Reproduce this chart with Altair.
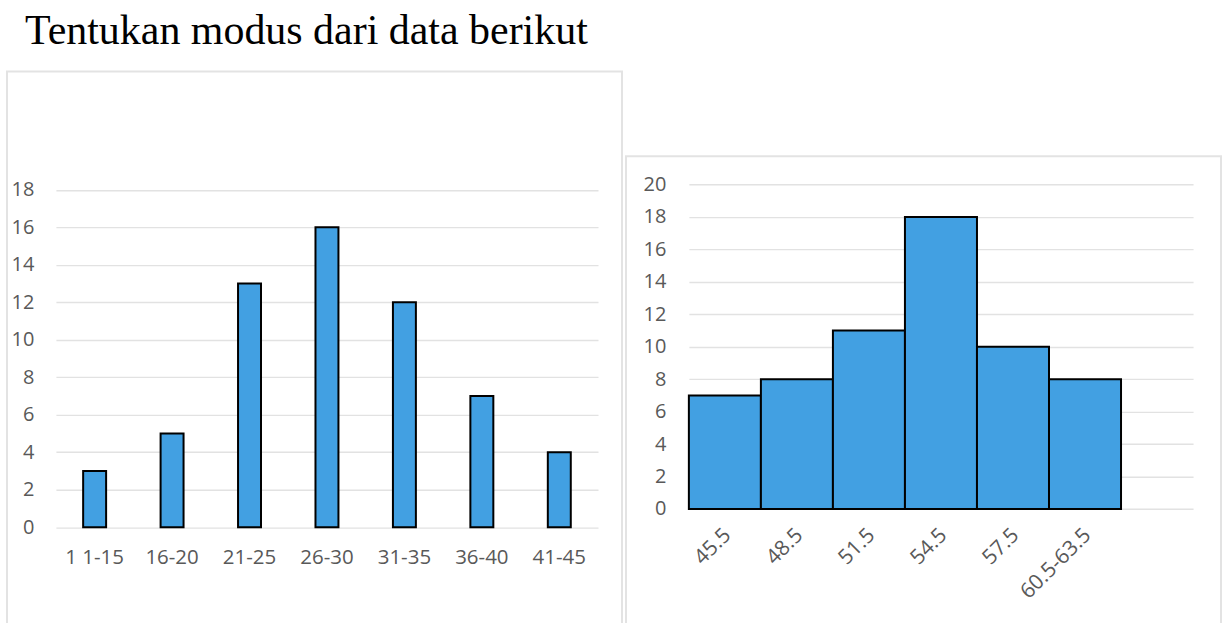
import altair as alt
import pandas as pd

# ---- data ----
left_categories = ["1 1-15", "16-20", "21-25", "26-30", "31-35", "36-40", "41-45"]
left_values = [3, 5, 13, 16, 12, 7, 4]

right_categories = ["45.5", "48.5", "51.5", "54.5", "57.5", "60.5-63.5"]
right_values = [7, 8, 11, 18, 10, 8]
right_extra_band = [" "]  # empty slot at the right end of the category axis

left_ticks = [0, 2, 4, 6, 8, 10, 12, 14, 16, 18]
right_ticks = [0, 2, 4, 6, 8, 10, 12, 14, 16, 18, 20]

title_text = "Tentukan modus dari data berikut"

# ---- styles ----
BAR_FILL = "#42a0e2"
GRID = "#e2e2e2"
LABEL = "#595959"
BOX = "#e3e3e3"
FONT = "Open Sans"

left_df = pd.DataFrame({"kelas": left_categories, "frekuensi": left_values})
right_df = pd.DataFrame({"kelas": right_categories, "frekuensi": right_values})

EXTRA = 5  # let the panel frames run past the bottom edge, as in the reference
LW, LH = 616, 551 + EXTRA
RW, RH = 596, 466 + EXTRA

left = (
    alt.Chart(left_df, view=alt.ViewBackground(stroke=BOX, strokeWidth=2))
    .mark_bar(width=23, fill=BAR_FILL, stroke="black", strokeWidth=2)
    .encode(
        x=alt.X(
            "kelas:N",
            sort=left_categories,
            scale=alt.Scale(domain=left_categories, range=[49, 592],
                            paddingInner=0, paddingOuter=0),
            axis=alt.Axis(title=None, labelAngle=0, domain=False, ticks=False,
                          tickSize=0, labelPadding=20, offset=-94.5 - EXTRA,
                          labelFont=FONT, labelFontSize=20.5, labelColor=LABEL,
                          grid=False),
        ),
        y=alt.Y(
            "frekuensi:Q",
            scale=alt.Scale(domain=[0, 18], range=[456.5, 118.5], nice=False),
            axis=alt.Axis(title=None, values=left_ticks, domain=False, ticks=False,
                          tickSize=0, labelPadding=22, offset=-49,
                          labelFont=FONT, labelFontSize=20, labelColor=LABEL,
                          grid=True, gridColor=GRID, gridWidth=1.4),
        ),
    )
    .properties(width=LW, height=LH)
)

spacer = (
    alt.Chart(pd.DataFrame({"a": [0]}), view=alt.ViewBackground(stroke="transparent"))
    .mark_point(opacity=0)
    .encode(x=alt.value(200), y=alt.value(40))
    .properties(width=RW, height=83)
)

right_domain = right_categories + right_extra_band
right = (
    alt.Chart(right_df, view=alt.ViewBackground(stroke=BOX, strokeWidth=2))
    .mark_bar(fill=BAR_FILL, stroke="black", strokeWidth=2)
    .encode(
        x=alt.X(
            "kelas:N",
            sort=right_categories,
            scale=alt.Scale(domain=right_domain, range=[63, 568],
                            paddingInner=0, paddingOuter=0),
            axis=alt.Axis(title=None, labelAngle=-45, labelAlign="right",
                          labelBaseline="top", domain=False, ticks=False,
                          tickSize=0, labelPadding=15, labelOffset=-5,
                          offset=-112.7 - EXTRA,
                          labelFont=FONT, labelFontSize=21, labelColor=LABEL,
                          grid=False),
        ),
        y=alt.Y(
            "frekuensi:Q",
            scale=alt.Scale(domain=[0, 20], range=[353.3, 28.3], nice=False),
            axis=alt.Axis(title=None, values=right_ticks, domain=False, ticks=False,
                          tickSize=0, labelPadding=23, offset=-63,
                          labelFont=FONT, labelFontSize=20, labelColor=LABEL,
                          grid=True, gridColor=GRID, gridWidth=1.4),
        ),
    )
    .properties(width=RW, height=RH)
)

right_col = alt.vconcat(spacer, right, spacing=0)

chart = (
    alt.hconcat(left, right_col, spacing=2)
    .properties(
        title=alt.TitleParams(
            title_text, font="Liberation Serif", fontSize=42, fontWeight="normal",
            color="black", anchor="start", dx=19, offset=17, baseline="top",
        ),
        padding={"left": 6, "top": 10, "right": 0, "bottom": 0},
        background="white",
    )
)

chart.save("out.html", embed_options={"renderer": "svg", "actions": False})
